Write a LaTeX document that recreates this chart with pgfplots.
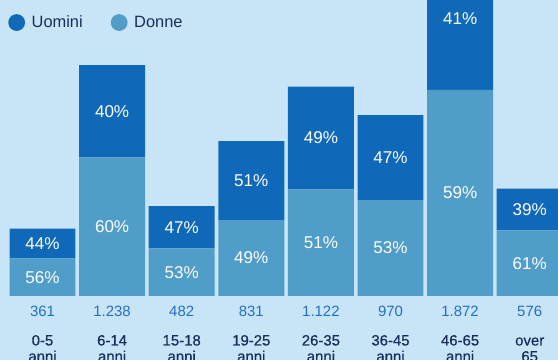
\documentclass[border=0pt]{standalone}
\usepackage{pgfplots}
\pgfplotsset{compat=1.18}
\usepackage{fontspec}
\setmainfont{Liberation Sans}
\newfontfamily\semib[FakeBold=0.5]{Liberation Sans}

\definecolor{bg}{HTML}{C8E5F7}
\definecolor{uomini}{HTML}{1068B8}
\definecolor{donne}{HTML}{4F9DC8}
\definecolor{numblue}{HTML}{2270C2}
\definecolor{navy}{HTML}{1B2D5C}

% 1px = 0.75pt, picture is 558x360 px
\pgfplotsset{
  base/.style={
    at={(0pt,48pt)}, anchor=south west,
    scale only axis, width=418.5pt, height=222pt,
    xmin=-0.6106, xmax=7.4066, ymin=0, ymax=1587,
    axis line style={draw=none}, major tick length=0pt,
    ytick=\empty,
  },
}

\begin{document}
\begin{tikzpicture}[x=0.75pt,y=0.75pt]
\useasboundingbox (0,0) rectangle (558,360);
\clip (0,0) rectangle (558,360);
\fill[bg] (0,0) rectangle (558,360);

\begin{axis}[base,
  ybar stacked, bar width=0.948,
  xtick={0,...,7},
  xticklabels={
    {\textcolor{numblue}{\normalfont 361}\\[9.6pt]0-5\\anni},
    {\textcolor{numblue}{\normalfont 1.238}\\[9.6pt]6-14\\anni},
    {\textcolor{numblue}{\normalfont 482}\\[9.6pt]15-18\\anni},
    {\textcolor{numblue}{\normalfont 831}\\[9.6pt]19-25\\anni},
    {\textcolor{numblue}{\normalfont 1.122}\\[9.6pt]26-35\\anni},
    {\textcolor{numblue}{\normalfont 970}\\[9.6pt]36-45\\anni},
    {\textcolor{numblue}{\normalfont 1.872}\\[9.6pt]46-65\\anni},
    {\textcolor{numblue}{\normalfont 576}\\[9.6pt]over\\65}},
  xticklabel style={font=\fontsize{11.2}{12}\selectfont\semib, text=navy,
    align=center, anchor=north, inner sep=0pt, yshift=-7.5pt},
  reverse legend,
  legend columns=2,
  legend image code/.code={\fill[#1] (0pt,0pt) circle (6.3pt);},
  legend style={at={(0,1)}, anchor=north west, xshift=3pt, yshift=-7.5pt,
    draw=none, fill=none, text=navy,
    font=\fontsize{12.3}{14}\selectfont,
    /tikz/every odd column/.append style={column sep=3pt},
    /tikz/every even column/.append style={column sep=19pt}},
]
\addplot[fill=donne, draw=none] coordinates {
  (0,202.2) (1,742.8) (2,255.5) (3,407.2) (4,572.2) (5,514.1) (6,1104.5) (7,351.4)};
\addlegendentry{Donne}
\addplot[fill=uomini, draw=none] coordinates {
  (0,158.8) (1,495.2) (2,226.5) (3,423.8) (4,549.8) (5,455.9) (6,767.5) (7,224.6)};
\addlegendentry{Uomini}
\end{axis}

\begin{axis}[base, hide axis,
  nodes near coords, point meta=explicit symbolic,
  every node near coord/.style={anchor=center, text=white,
    font=\fontsize{12.8}{14}\selectfont},
]
\addplot[draw=none, mark=none] table[meta=l] {
x y l
0 101.1 56\%
1 371.4 60\%
2 127.7 53\%
3 203.6 49\%
4 286.1 51\%
5 257.1 53\%
6 552.2 59\%
7 175.7 61\%
};
\addplot[draw=none, mark=none] table[meta=l] {
x y l
0 281.6 44\%
1 990.4 40\%
2 368.8 47\%
3 619.1 51\%
4 847.1 49\%
5 742.1 47\%
6 1488.2 41\%
7 463.7 39\%
};
\end{axis}
\end{tikzpicture}
\end{document}
